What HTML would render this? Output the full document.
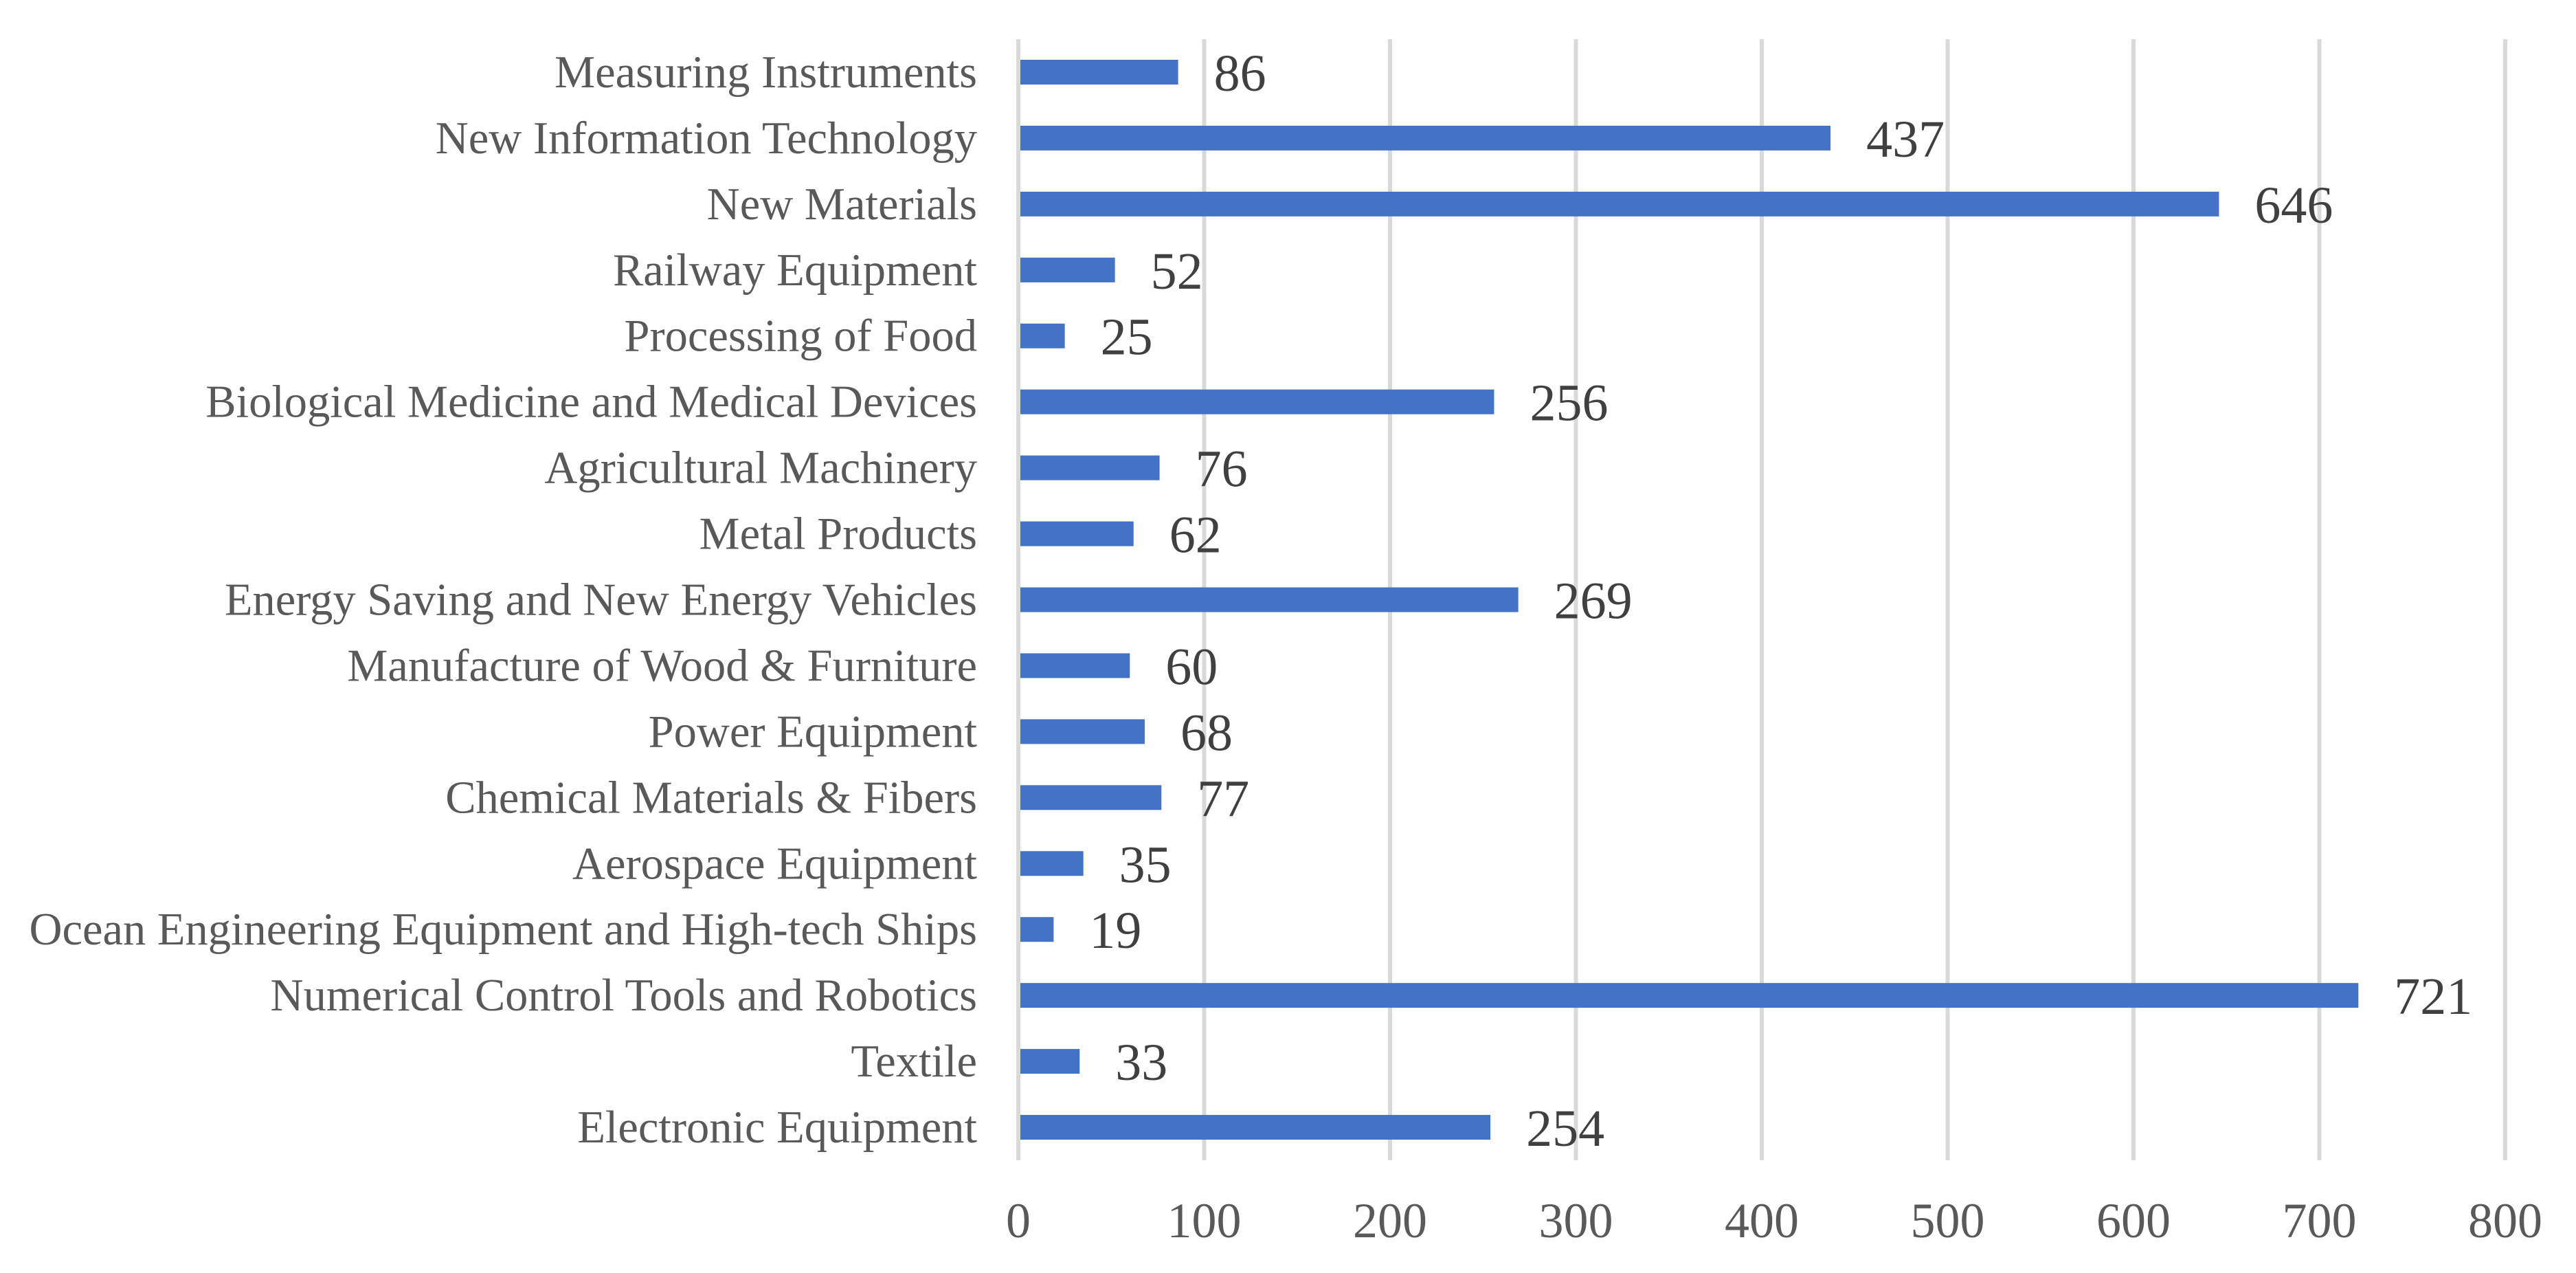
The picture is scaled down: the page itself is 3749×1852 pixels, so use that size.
<!DOCTYPE html>
<html><head><meta charset="utf-8"><style>
html,body{margin:0;padding:0;background:#fff;}
svg{display:block;}
</style></head><body>
<svg id="chart" width="3749" height="1852" xmlns="http://www.w3.org/2000/svg"></svg>
<script>
const categories = ["Measuring Instruments","New Information Technology","New Materials","Railway Equipment","Processing of Food","Biological Medicine and Medical Devices","Agricultural Machinery","Metal Products","Energy Saving and New Energy Vehicles","Manufacture of Wood & Furniture","Power Equipment","Chemical Materials & Fibers","Aerospace Equipment","Ocean Engineering Equipment and High-tech Ships","Numerical Control Tools and Robotics","Textile","Electronic Equipment"];
const values = [86,437,646,52,25,256,76,62,269,60,68,77,35,19,721,33,254];
const tickValues = [0,100,200,300,400,500,600,700,800];

const svg = document.getElementById('chart');
const NS = 'http://www.w3.org/2000/svg';
const x0 = 1482, pxPer = 2.705;
const plotTop = 57, plotBottom = 1688;
const band = (plotBottom - plotTop) / categories.length;
const xScale = v => x0 + v * pxPer;
const yScale = i => plotTop + band * i;
function mk(tag, attrs){const e=document.createElementNS(NS,tag);for(const k in attrs)e.setAttribute(k,attrs[k]);svg.appendChild(e);return e;}

tickValues.forEach(t=>{
  const g = mk('line',{x1:xScale(t),x2:xScale(t),y1:plotTop,y2:plotBottom,stroke:'#d9d9d9','stroke-width':6});
  
  
  const tl = mk('text',{x:xScale(t),y:1800,'text-anchor':'middle','font-family':'Liberation Serif, serif','font-size':72,fill:'#595959'});
  tl.textContent = t;
  
  
});

categories.forEach((c,i)=>{
  const yc = yScale(i) + band/2;
  const bh = band*0.375;
  const r = mk('rect',{x:xScale(0)+3,y:yc-bh/2,width:Math.max(0,xScale(values[i])-xScale(0)-3),height:bh,fill:'#4472c4'});
  
  
  const lab = mk('text',{x:1422,y:yc+22,'text-anchor':'end','font-family':'Liberation Serif, serif','font-size':66.5,fill:'#595959'});
  lab.textContent = c;
  
  
  const vl = mk('text',{x:xScale(values[i])+52,y:yc+27,'font-family':'Liberation Serif, serif','font-size':76,fill:'#404040'});
  vl.textContent = values[i];
  
  
});
</script>
</body></html>
